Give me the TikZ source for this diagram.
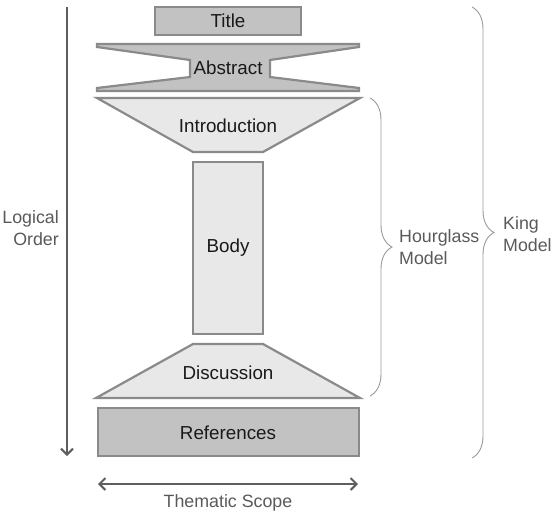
\documentclass[tikz,border=0pt]{standalone}
\usepackage{fontspec}
\setmainfont{Liberation Sans}
\usetikzlibrary{arrows.meta,decorations.pathreplacing}
\definecolor{edgegray}{HTML}{8A8A8A}
\definecolor{darkfill}{HTML}{C2C2C2}
\definecolor{lightfill}{HTML}{E8E8E8}
\definecolor{arrowgray}{HTML}{5E5E5E}
\definecolor{labelgray}{HTML}{5A5A5A}
\definecolor{bracegray}{HTML}{9A9A9A}
\begin{document}
\begin{tikzpicture}[x=1pt,y=-1pt,
  part/.style={draw=edgegray,line width=2.2pt,line join=miter},
  darkpart/.style={part,fill=darkfill},
  lightpart/.style={part,fill=lightfill},
  partlabel/.style={text=black!90,font=\fontsize{18.8}{22}\selectfont,inner sep=0pt},
  sidelabel/.style={text=labelgray,font=\fontsize{17.8}{22}\selectfont,inner sep=0pt},
  axis/.style={draw=arrowgray,line width=2pt,arrows={-Straight Barb[length=6pt,width=12pt,line width=2pt]}},
  bracket/.style={draw=bracegray,line width=0.9pt,decorate,decoration={brace,amplitude=22pt}}]
\useasboundingbox (0,0) rectangle (557,517);
\fill[white] (0,0) rectangle (557,517);

% paper sections
\draw[darkpart] (155,7) rectangle (301,35);
\draw[darkpart] (97,44) -- (359,44) -- (359,47) -- (270,60) -- (270,77) -- (359,88)
  -- (359,91) -- (97,91) -- (97,88) -- (190,77) -- (190,60) -- (97,47) -- cycle;
\draw[lightpart] (97,98) -- (360,98) -- (263,152) -- (193,152) -- cycle;
\draw[lightpart] (193,162) rectangle (263,334);
\draw[lightpart] (193,344) -- (263,344) -- (360,398) -- (96,398) -- cycle;
\draw[darkpart] (98,408) rectangle (359,456);

\node[partlabel] (title) at (228,21) {Title};
\node[partlabel] (abstract) at (228,68) {Abstract};
\node[partlabel] (intro) at (228,126) {Introduction};
\node[partlabel] (body) at (228,248) {Body};
\node[partlabel] (disc) at (228,373) {Discussion};
\node[partlabel] (refs) at (228,433) {References};

% reading direction and scope axes
\coordinate (ordertop) at (67,7);
\coordinate (orderbot) at (67,456);
\draw[axis] (ordertop) -- (orderbot);
\node[sidelabel,align=right,anchor=east] (order) at (59,228) {Logical\\Order};

\coordinate (scopeleft) at (98,484);
\coordinate (scoperight) at (358,484);
\draw[axis,arrows={Straight Barb[length=6pt,width=12pt,line width=2pt]-Straight Barb[length=6pt,width=12pt,line width=2pt]}] (scopeleft) -- (scoperight);
\node[sidelabel] (scope) at (228,503) {Thematic Scope};

% model braces
\coordinate (hgtop) at (370,98);
\coordinate (hgbot) at (370,396);
\draw[bracket] (hgtop) -- (hgbot);
\node[sidelabel,align=left,anchor=west] (hourglass) at (399,247) {Hourglass\\Model};

\coordinate (kingtop) at (472,7);
\coordinate (kingbot) at (472,458);
\draw[bracket] (kingtop) -- (kingbot);
\node[sidelabel,align=left,anchor=west] (king) at (503,234) {King\\Model};
\end{tikzpicture}
\end{document}
